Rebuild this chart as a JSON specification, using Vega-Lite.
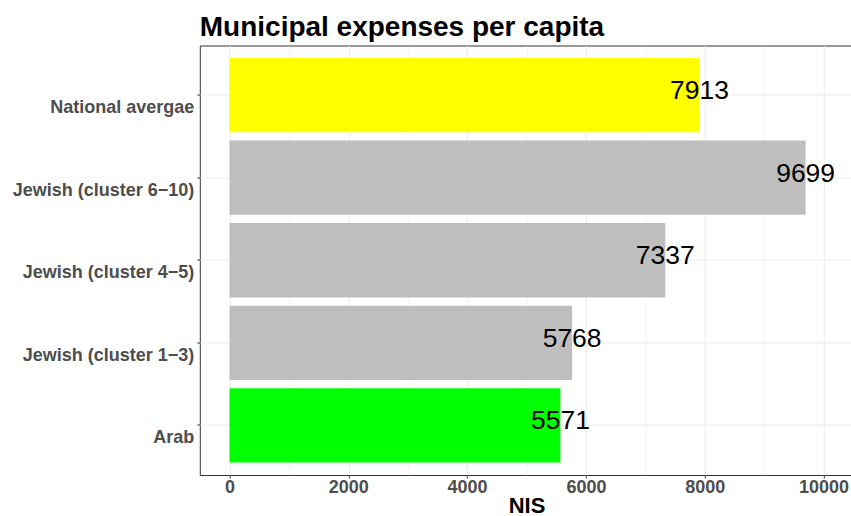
{
  "$schema": "https://vega.github.io/schema/vega-lite/v6.json",
  "autosize": {"type": "none"},
  "padding": {"left": 199.8, "top": 45.5, "right": 0, "bottom": 41},
  "width": 653.4,
  "height": 429.5,
  "background": "white",
  "title": {
    "text": "Municipal expenses per capita",
    "anchor": "start",
    "frame": "group",
    "font": "Liberation Sans",
    "fontSize": 28,
    "fontWeight": "bold",
    "color": "black",
    "baseline": "alphabetic",
    "offset": -18.5
  },
  "config": {
    "view": {"stroke": "#333333", "strokeWidth": 1},
    "axis": {
      "labelFont": "Liberation Sans",
      "labelFontWeight": "bold",
      "labelFontSize": 18,
      "labelColor": "#4d4d4d",
      "labelLimit": 400,
      "tickColor": "#333333",
      "tickSize": 3,
      "domain": false,
      "gridColor": "#ebebeb",
      "titleFont": "Liberation Sans",
      "titleFontWeight": "bold",
      "titleColor": "black"
    }
  },
  "data": {
    "values": [
      {"category": "National avergae", "group": "national", "value": 7913},
      {"category": "Jewish (cluster 6−10)", "group": "jewish", "value": 9699},
      {"category": "Jewish (cluster 4−5)", "group": "jewish", "value": 7337},
      {"category": "Jewish (cluster 1−3)", "group": "jewish", "value": 5768},
      {"category": "Arab", "group": "arab", "value": 5571}
    ]
  },
  "encoding": {
    "y": {
      "field": "category",
      "type": "nominal",
      "sort": null,
      "scale": {"paddingInner": 0.1, "paddingOuter": 0.15},
      "axis": {
        "title": null,
        "grid": true,
        "gridWidth": 1.07,
        "bandPosition": 0.5,
        "labelOffset": 13,
        "labelPadding": 3
      }
    },
    "x": {
      "field": "value",
      "type": "quantitative",
      "scale": {"domain": [-500, 10500], "nice": false, "zero": false},
      "axis": {
        "title": "NIS",
        "titleFontSize": 22,
        "titlePadding": -1,
        "values": [0, 1000, 2000, 3000, 4000, 5000, 6000, 7000, 8000, 9000, 10000],
        "labelExpr": "datum.value % 2000 === 0 ? datum.value : ''",
        "format": "d",
        "labelPadding": 1,
        "grid": true,
        "gridWidth": {"condition": {"test": "datum.value % 2000 !== 0", "value": 0.53}, "value": 1.07},
        "tickSize": {"condition": {"test": "datum.value % 2000 !== 0", "value": 0}, "value": 3},
        "labelFlush": false,
        "labelOverlap": false
      }
    }
  },
  "layer": [
    {
      "mark": {"type": "bar"},
      "encoding": {
        "color": {
          "field": "group",
          "type": "nominal",
          "scale": {"domain": ["national", "jewish", "arab"], "range": ["#FFFF00", "#BEBEBE", "#00FF00"]},
          "legend": null
        }
      }
    },
    {
      "mark": {"type": "text", "font": "Liberation Sans", "fontSize": 26.5, "color": "black", "align": "center", "baseline": "middle", "dy": -4},
      "encoding": {
        "text": {"field": "value", "type": "quantitative", "format": "d"}
      }
    }
  ]
}
